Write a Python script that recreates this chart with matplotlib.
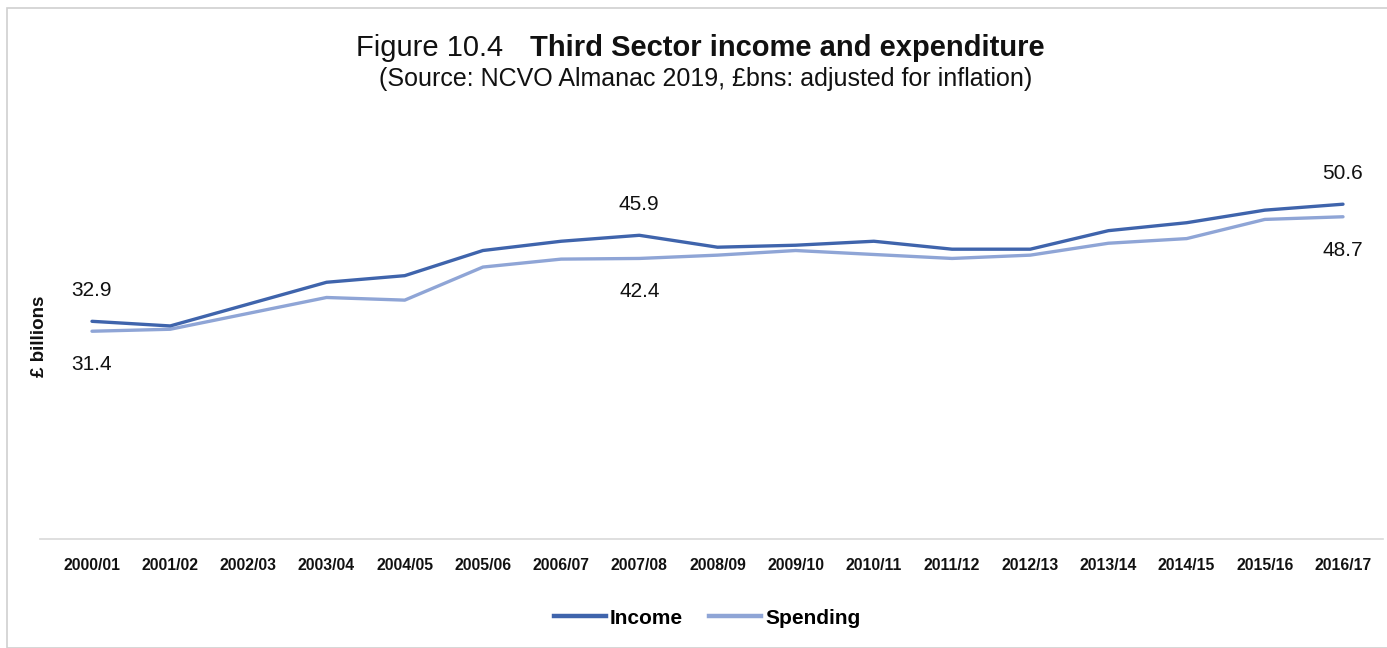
import matplotlib
matplotlib.use("Agg")
import matplotlib.pyplot as plt
from matplotlib.patches import Rectangle
from matplotlib.lines import Line2D

years = ["2000/01", "2001/02", "2002/03", "2003/04", "2004/05", "2005/06", "2006/07",
         "2007/08", "2008/09", "2009/10", "2010/11", "2011/12", "2012/13", "2013/14",
         "2014/15", "2015/16", "2016/17"]
income = [32.9, 32.2, 35.5, 38.8, 39.8, 43.6, 45.0, 45.9, 44.1, 44.4, 45.0, 43.8, 43.8,
          46.6, 47.8, 49.7, 50.6]
spending = [31.4, 31.7, 34.1, 36.5, 36.1, 41.1, 42.3, 42.4, 42.9, 43.6, 43.0, 42.4, 42.9,
            44.7, 45.4, 48.3, 48.7]
income_labels = {0: "32.9", 7: "45.9", 16: "50.6"}
spending_labels = {0: "31.4", 7: "42.4", 16: "48.7"}

plt.rcParams['font.family'] = ['Liberation Sans', 'DejaVu Sans']

W, H = 1387, 648
fig = plt.figure(figsize=(W / 100, H / 100), dpi=100)

def fx(px):
    return px / W

def fy(py):
    return 1 - py / H

# figure border
fig.patches.append(Rectangle((fx(7), fy(648)), 1.2, fy(8) - fy(648), transform=fig.transFigure,
                             fill=False, edgecolor="#D0D0D0", linewidth=1.2))

ax = fig.add_axes([fx(40), fy(539), fx(1383) - fx(40), fy(142) - fy(539)])
x = list(range(len(years)))
c_inc = "#3F64AC"
c_sp = "#8FA5D6"
ax.plot(x, income, color=c_inc, linewidth=2.4, solid_capstyle="round", label="Income", zorder=3)
ax.plot(x, spending, color=c_sp, linewidth=2.4, solid_capstyle="round", label="Spending", zorder=2)

spacing = (1343 - 92) / 16
ax.set_xlim((40 - 92) / spacing, (1383 - 92) / spacing)
ax.set_ylim(0, 60)

for i, t in income_labels.items():
    ax.annotate(t, (i, income[i]), xytext=(0, 22), textcoords="offset points",
                ha="center", va="center", fontsize=15, color="#111111")
for i, t in spending_labels.items():
    ax.annotate(t, (i, spending[i]), xytext=(0, -24), textcoords="offset points",
                ha="center", va="center", fontsize=15, color="#111111")

for s in ["top", "right", "left"]:
    ax.spines[s].set_visible(False)
ax.spines["bottom"].set_color("#D9D9D9")
ax.spines["bottom"].set_linewidth(1.2)
ax.set_yticks([])
ax.set_xticks(x)
ax.set_xticklabels(years, fontsize=11.3, fontweight="bold", color="#111111")
ax.tick_params(axis="x", length=0, pad=14)

fig.text(fx(40), fy(336), "£ billions", rotation=90, ha="center", va="center",
         fontsize=13.5, fontweight="bold", color="#111111")

fig.text(fx(503), fy(48), "Figure 10.4", ha="right", va="center", fontsize=21, color="#111111")
fig.text(fx(530), fy(48), "Third Sector income and expenditure", ha="left", va="center",
         fontsize=21, fontweight="bold", color="#111111")
fig.text(fx(706), fy(79), "(Source: NCVO Almanac 2019, £bns: adjusted for inflation)",
         ha="center", va="center", fontsize=18, color="#111111")

handles = [Line2D([], [], color=c_inc, linewidth=3.2), Line2D([], [], color=c_sp, linewidth=3.2)]
leg = fig.legend(handles, ["Income", "Spending"], loc="center", bbox_to_anchor=(fx(707), fy(618)),
                 ncol=2, frameon=False, handlelength=2.5, handletextpad=0.2, columnspacing=1.25,
                 prop={"size": 15, "weight": "bold"})

fig.savefig("out.png", dpi=100)
